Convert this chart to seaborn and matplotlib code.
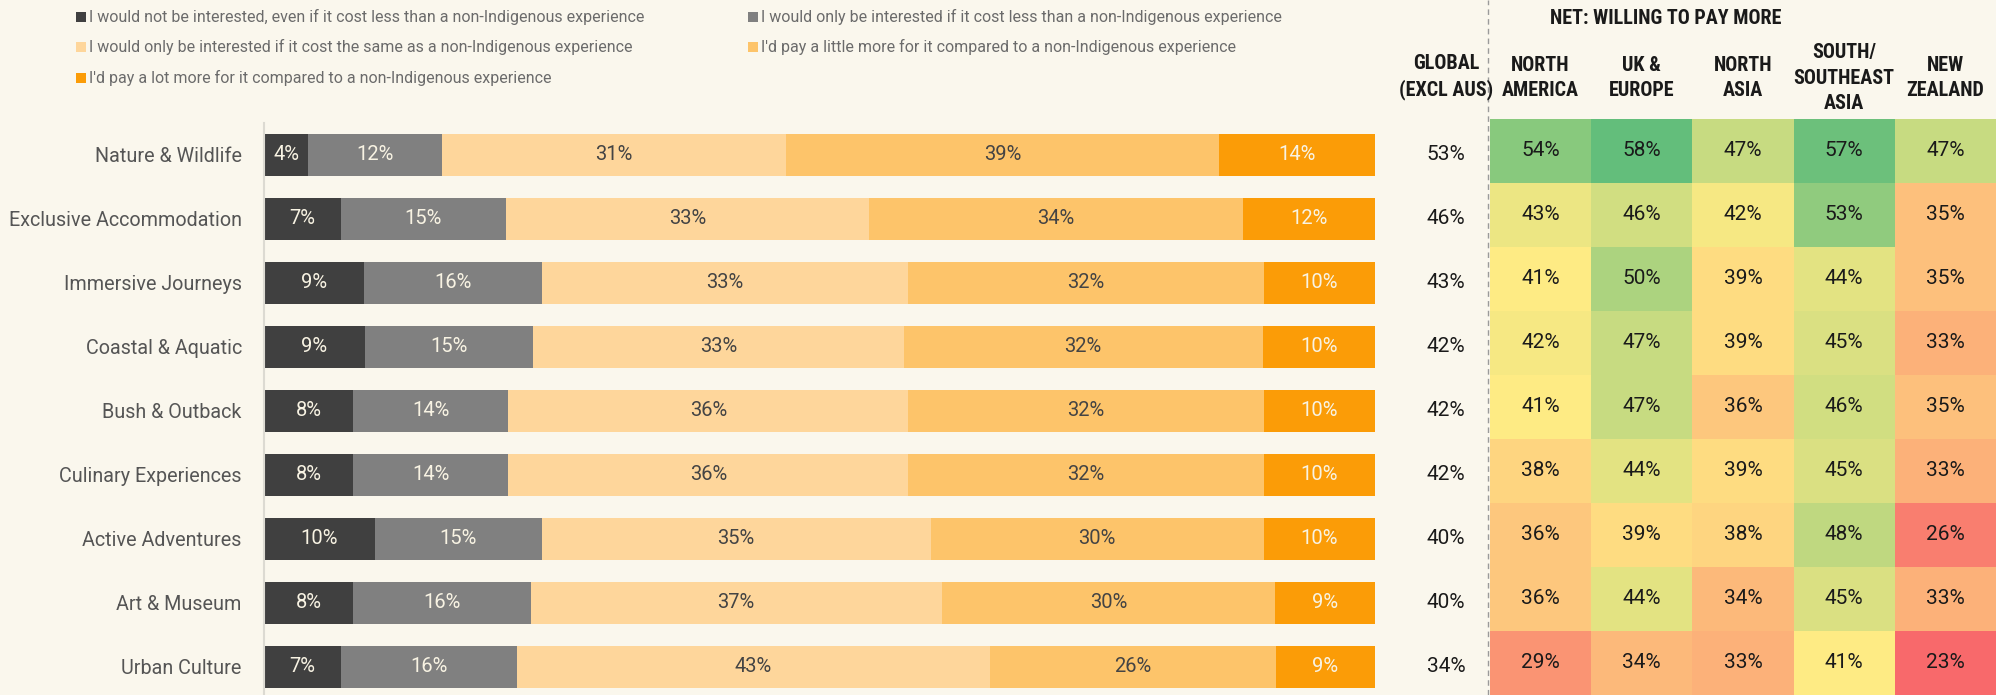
import numpy as np
import pandas as pd
import matplotlib
matplotlib.use("Agg")
import matplotlib.pyplot as plt
import seaborn as sns
from matplotlib import font_manager
from matplotlib.colors import LinearSegmentedColormap, TwoSlopeNorm
from matplotlib.lines import Line2D
from matplotlib.patches import Rectangle
from matplotlib.transforms import blended_transform_factory

# ---------------- data ----------------
categories = ["Nature & Wildlife", "Exclusive Accommodation", "Immersive Journeys",
              "Coastal & Aquatic", "Bush & Outback", "Culinary Experiences",
              "Active Adventures", "Art & Museum", "Urban Culture"]

series_names = [
    "I would not be interested, even if it cost less than a non-Indigenous experience",
    "I would only be interested if it cost less than a non-Indigenous experience",
    "I would only be interested if it cost the same as a non-Indigenous experience",
    "I'd pay a little more for it compared to a non-Indigenous experience",
    "I'd pay a lot more for it compared to a non-Indigenous experience",
]

not_interested = [4, 7, 9, 9, 8, 8, 10, 8, 7]
only_if_less = [12, 15, 16, 15, 14, 14, 15, 16, 16]
only_if_same = [31, 33, 33, 33, 36, 36, 35, 37, 43]
little_more = [39, 34, 32, 32, 32, 32, 30, 30, 26]
lot_more = [14, 12, 10, 10, 10, 10, 10, 9, 9]

global_net = [53, 46, 43, 42, 42, 42, 40, 40, 34]

regions = ["NORTH\nAMERICA", "UK &\nEUROPE", "NORTH\nASIA", "SOUTH/\nSOUTHEAST\nASIA", "NEW\nZEALAND"]
north_america = [54, 43, 41, 42, 41, 38, 36, 36, 29]
uk_europe = [58, 46, 50, 47, 47, 44, 39, 44, 34]
north_asia = [47, 42, 39, 39, 36, 39, 38, 34, 33]
se_asia = [57, 53, 44, 45, 46, 45, 48, 45, 41]
new_zealand = [47, 35, 35, 33, 35, 33, 26, 33, 23]

# ---------------- style ----------------
BG = "#FAF7ED"
seg_colors = ["#404040", "#808080", "#FED69B", "#FDC46A", "#FB9C07"]
seg_text = ["#F8F3E3", "#F8F3E3", "#444444", "#444444", "#F8F3E3"]

sns.set_theme(style="white")
names = {f.name for f in font_manager.fontManager.ttflist}
body_font = "Roboto" if "Roboto" in names else "DejaVu Sans"
head_font = "Roboto Condensed" if "Roboto Condensed" in names else body_font
head_size = 14.5 if head_font == "Roboto Condensed" else 13
plt.rcParams["font.family"] = [body_font, "DejaVu Sans"]

W, H = 1996, 695
fig = plt.figure(figsize=(W / 100, H / 100), dpi=100, facecolor=BG)

def fx(px):
    return px / W

def fy(py):
    return 1 - py / H

# ---------------- stacked bars ----------------
vals = np.array([not_interested, only_if_less, only_if_same, little_more, lot_more], dtype=float).T
norm = vals / vals.sum(axis=1, keepdims=True) * 100
cum = np.cumsum(norm, axis=1)

ax = fig.add_axes([fx(264), -4 / H, fx(1375) - fx(264), 576 / H])
ax.set_facecolor(BG)
for k in reversed(range(5)):
    sns.barplot(x=cum[:, k], y=categories, color=seg_colors[k], orient="h",
                width=0.66, saturation=1, linewidth=0, ax=ax)
for i in range(len(categories)):
    for k in range(5):
        c = cum[i, k] - norm[i, k] / 2
        ax.text(c, i, f"{int(vals[i, k])}%", ha="center", va="center",
                fontsize=14.5, color=seg_text[k])

ax.set_xlim(0, 100)
ax.set_ylim(len(categories) - 0.5, -0.5)
ax.set_xlabel("")
ax.set_ylabel("")
ax.set_xticks([])
for s in ["top", "right", "bottom"]:
    ax.spines[s].set_visible(False)
ax.spines["left"].set_color("#DCDAD2")
ax.spines["left"].set_linewidth(1.5)
ax.tick_params(axis="y", length=0, pad=16, labelsize=14.2, labelcolor="#555555")

# global column
tr = blended_transform_factory(fig.transFigure, ax.transData)
for i, v in enumerate(global_net):
    ax.text(fx(1446), i, f"{v}%", transform=tr, ha="center", va="center",
            fontsize=15, color="#1a1a1a")

# ---------------- heatmap ----------------
hm = pd.DataFrame({"NA": north_america, "UK": uk_europe, "NAS": north_asia,
                   "SEA": se_asia, "NZ": new_zealand}, index=categories)
annot = hm.map(lambda v: f"{v}%").values
cmap = LinearSegmentedColormap.from_list("rdylgn_xl", ["#F8696B", "#FFEB84", "#63BE7B"])
hnorm = TwoSlopeNorm(vmin=hm.values.min(), vcenter=float(np.median(hm.values)), vmax=hm.values.max())

hax = fig.add_axes([fx(1490), 0, 1 - fx(1490), 576 / H])
sns.heatmap(hm, cmap=cmap, norm=hnorm, annot=annot, fmt="", cbar=False,
            annot_kws={"fontsize": 15, "color": "#1a1a1a"}, linewidths=0, ax=hax)
hax.set_xticks([])
hax.set_yticks([])
hax.set_xlabel("")
hax.set_ylabel("")

# ---------------- headers ----------------
col_w = (W - 1490) / 5
hkw = dict(fontsize=head_size, fontweight="black", family=[head_font, "DejaVu Sans"],
           color="#1a1a1a")
for j, r in enumerate(regions):
    fig.text(fx(1490 + col_w * (j + 0.5)), fy(78), r, ha="center", va="center",
             linespacing=1.45, **hkw)
fig.text(fx(1446), fy(77), "GLOBAL\n(EXCL AUS)", ha="center", va="center",
         linespacing=1.45, **hkw)
fig.text(fx(1666), fy(19), "NET: WILLING TO PAY MORE", ha="center", va="center", **hkw)

# dashed divider
fig.add_artist(Line2D([fx(1488), fx(1488)], [0, 1], transform=fig.transFigure,
                      color="#9a9a9a", lw=1, linestyle=(0, (4, 3))))

# ---------------- legend ----------------
leg_pos = [(76, 17), (748, 17), (76, 47), (748, 47), (76, 78)]
sq = 10
for k, (lx, ly) in enumerate(leg_pos):
    fig.add_artist(Rectangle((fx(lx), fy(ly + sq / 2)), sq / W, sq / H,
                             transform=fig.transFigure, facecolor=seg_colors[k], edgecolor="none"))
    fig.text(fx(lx + 13), fy(ly), series_names[k], ha="left", va="center",
             fontsize=11.5, color="#6b6b6b")

fig.savefig("out.png", dpi=100, facecolor=BG)
